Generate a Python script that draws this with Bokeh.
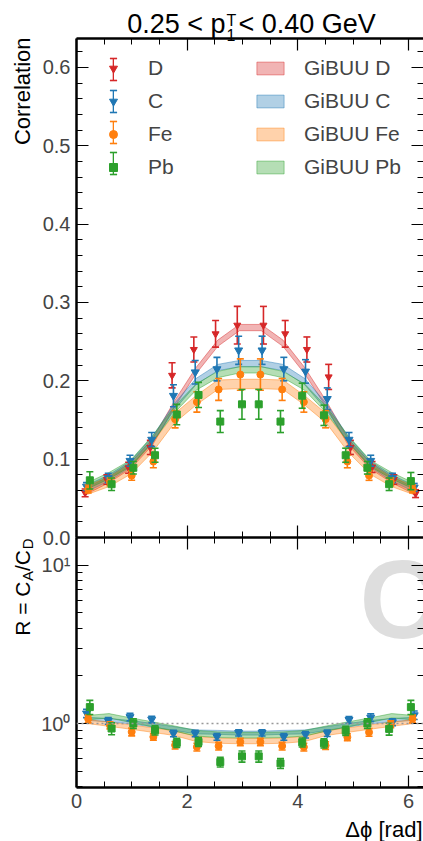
import numpy as np
from bokeh.plotting import figure
from bokeh.models import (Range1d, LinearAxis, LogAxis, FixedTicker, Label,
                          Legend, LegendItem, Span, NumeralTickFormatter)
from bokeh.layouts import column
from bokeh.embed import file_html
from bokeh.resources import INLINE

FONT = "Liberation Sans"

# ---------------- data ----------------
bin_centers = [0.196, 0.589, 0.982, 1.374, 1.767, 2.160, 2.553, 2.945,
               3.338, 3.731, 4.123, 4.516, 4.909, 5.301, 5.694, 6.087]

corr_D = [0.057, 0.074, 0.089, 0.115, 0.207, 0.240, 0.260, 0.271,
          0.271, 0.260, 0.240, 0.205, 0.115, 0.090, 0.074, 0.056]
err_D = [0.005, 0.006, 0.007, 0.009, 0.016, 0.016, 0.017, 0.024,
         0.024, 0.017, 0.016, 0.016, 0.009, 0.007, 0.006, 0.005]
corr_C = [0.065, 0.076, 0.098, 0.125, 0.181, 0.211, 0.215, 0.239,
          0.239, 0.215, 0.212, 0.177, 0.125, 0.098, 0.076, 0.064]
err_C = [0.005, 0.006, 0.007, 0.009, 0.014, 0.015, 0.015, 0.018,
         0.018, 0.015, 0.015, 0.014, 0.009, 0.007, 0.006, 0.005]
corr_Fe = [0.062, 0.071, 0.079, 0.097, 0.151, 0.173, 0.189, 0.208,
           0.208, 0.189, 0.173, 0.151, 0.097, 0.079, 0.071, 0.062]
err_Fe = [0.005, 0.005, 0.006, 0.008, 0.011, 0.013, 0.014, 0.020,
          0.020, 0.014, 0.013, 0.011, 0.008, 0.006, 0.005, 0.005]
corr_Pb = [0.073, 0.068, 0.089, 0.105, 0.157, 0.182, 0.148, 0.170,
           0.170, 0.148, 0.181, 0.156, 0.105, 0.089, 0.068, 0.072]
err_Pb = [0.011, 0.008, 0.008, 0.009, 0.013, 0.016, 0.014, 0.019,
          0.019, 0.014, 0.016, 0.013, 0.009, 0.008, 0.008, 0.011]

gibuu_D = [0.060, 0.074, 0.092, 0.122, 0.170, 0.213, 0.248, 0.268,
           0.268, 0.248, 0.213, 0.170, 0.122, 0.092, 0.074, 0.060]
gibuu_C = [0.063, 0.076, 0.094, 0.125, 0.167, 0.199, 0.217, 0.222,
           0.222, 0.217, 0.199, 0.167, 0.125, 0.094, 0.076, 0.063]
gibuu_Fe = [0.061, 0.071, 0.087, 0.115, 0.152, 0.175, 0.195, 0.196,
            0.196, 0.195, 0.175, 0.152, 0.115, 0.087, 0.071, 0.061]
gibuu_Pb = [0.066, 0.079, 0.095, 0.126, 0.163, 0.192, 0.208, 0.214,
            0.214, 0.208, 0.192, 0.163, 0.126, 0.095, 0.079, 0.066]
gibuu_hw = {"D": 0.004, "C": 0.004, "Fe": 0.006, "Pb": 0.004}

ratio_C = [1.16, 1.04, 1.10, 1.06, 0.865, 0.865, 0.823, 0.873,
           0.873, 0.823, 0.85, 0.868, 1.055, 1.09, 1.02, 1.13]
rerr_C = [0.07, 0.05, 0.06, 0.05, 0.04, 0.04, 0.04, 0.04,
          0.04, 0.04, 0.04, 0.04, 0.05, 0.06, 0.05, 0.07]
ratio_Fe = [1.07, 0.975, 0.885, 0.823, 0.73, 0.711, 0.72, 0.765,
            0.765, 0.72, 0.71, 0.726, 0.82, 0.88, 0.99, 1.07]
rerr_Fe = [0.06, 0.05, 0.05, 0.04, 0.04, 0.04, 0.04, 0.04,
           0.04, 0.04, 0.04, 0.04, 0.04, 0.05, 0.05, 0.06]
ratio_Pb = [1.27, 0.93, 1.00, 0.907, 0.755, 0.765, 0.571, 0.62,
            0.62, 0.56, 0.76, 0.75, 0.90, 1.00, 0.925, 1.27]
rerr_Pb = [0.13, 0.08, 0.07, 0.06, 0.05, 0.05, 0.04, 0.05,
           0.05, 0.04, 0.05, 0.05, 0.06, 0.07, 0.08, 0.13]

gratio_C = [1.07, 1.05, 1.02, 0.975, 0.93, 0.885, 0.88, 0.87,
            0.87, 0.88, 0.885, 0.93, 0.975, 1.02, 1.05, 1.07]
gratio_Fe = [1.03, 0.99, 0.95, 0.91, 0.87, 0.80, 0.78, 0.775,
             0.775, 0.78, 0.80, 0.87, 0.91, 0.95, 0.99, 1.03]
gratio_Pb = [1.09, 1.12, 1.05, 0.99, 0.93, 0.87, 0.85, 0.845,
             0.845, 0.85, 0.87, 0.93, 0.99, 1.05, 1.12, 1.09]
gratio_hw = {"C": 0.025, "Fe": 0.03, "Pb": 0.035}

x_major = [0, 2, 4, 6]
x_minor = [0.5, 1.0, 1.5, 2.0, 2.5, 3.0, 3.5, 4.0, 4.5, 5.0, 5.5, 6.0]
y1_major = [0.0, 0.1, 0.2, 0.3, 0.4, 0.5, 0.6]
y1_minor = [0.02, 0.04, 0.06, 0.08, 0.12, 0.14, 0.16, 0.18, 0.22, 0.24, 0.26, 0.28,
            0.32, 0.34, 0.36, 0.38, 0.42, 0.44, 0.46, 0.48, 0.52, 0.54, 0.56, 0.58, 0.62]
y2_major = [1, 10]
y2_minor = [0.4, 0.5, 0.6, 0.7, 0.8, 0.9, 2, 3, 4, 5, 6, 7, 8, 9]
y2_labels = {1: "10\u2070", 10: "10\u00b9"}

names = ["D", "C", "Fe", "Pb"]
corr = {"D": corr_D, "C": corr_C, "Fe": corr_Fe, "Pb": corr_Pb}
err = {"D": err_D, "C": err_C, "Fe": err_Fe, "Pb": err_Pb}
gibuu = {"D": gibuu_D, "C": gibuu_C, "Fe": gibuu_Fe, "Pb": gibuu_Pb}
ratio = {"C": ratio_C, "Fe": ratio_Fe, "Pb": ratio_Pb}
rerr = {"C": rerr_C, "Fe": rerr_Fe, "Pb": rerr_Pb}
gratio = {"C": gratio_C, "Fe": gratio_Fe, "Pb": gratio_Pb}

colors = {"D": "#d62728", "C": "#1f77b4", "Fe": "#ff7f0e", "Pb": "#2ca02c"}
markers = {"D": "inverted_triangle", "C": "inverted_triangle", "Fe": "circle", "Pb": "square"}
msize = {"D": 7, "C": 8, "Fe": 7, "Pb": 7}
xoff = {"D": -0.04, "C": -0.015, "Fe": 0.015, "Pb": 0.045}

centers = np.array(bin_centers)


def shifted(n):
    return centers + xoff[n] * np.sign(np.pi - centers)


def style_axis(ax, labels, line=True):
    ax.axis_line_width = 2.5
    ax.axis_line_color = "black" if line else None
    ax.major_tick_in = 12
    ax.major_tick_out = 0
    ax.minor_tick_in = 6
    ax.minor_tick_out = 0
    ax.major_tick_line_width = 1.2
    ax.minor_tick_line_width = 1.0
    ax.major_label_text_font = FONT
    if labels:
        ax.major_label_text_font_size = "20px"
        ax.major_label_standoff = 6
    else:
        ax.major_label_text_font_size = "1px"
        ax.major_label_text_alpha = 0
        ax.major_label_standoff = 0
    return ax


def draw_band(p, y_lo, y_hi, c):
    xs = list(centers) + list(centers[::-1])
    ys = list(y_lo) + list(y_hi[::-1])
    return p.patch(xs, ys, fill_color=c, fill_alpha=0.35, line_color=c,
                   line_alpha=0.45, line_width=1)


def draw_points(p, x, y, e, n):
    c = colors[n]
    y = np.array(y)
    e = np.array(e)
    p.segment(x0=x, y0=y - e, x1=x, y1=y + e, line_color=c, line_width=1.6)
    p.scatter(x, y - e, marker="dash", size=7, line_color=c, line_width=1.6)
    p.scatter(x, y + e, marker="dash", size=7, line_color=c, line_width=1.6)
    return p.scatter(x, y, marker=markers[n], size=msize[n], fill_color=c, line_color=c)


def label(p, x, y, text, size, align="left", angle=0.0, **kw):
    p.add_layout(Label(x=x, y=y, x_units="screen", y_units="screen", text=text,
                       text_font=FONT, text_font_size=size, text_align=align,
                       text_baseline="middle", angle=angle, text_color="black", **kw))


xr = Range1d(0, 6.27)

# ---------------- top panel ----------------
p1 = figure(width=423, height=547, x_range=xr, y_range=Range1d(0, 0.637),
            output_backend="svg", toolbar_location=None,
            x_axis_location=None, y_axis_location=None,
            min_border_left=76, min_border_right=0, min_border_top=38, min_border_bottom=10)
p1.grid.visible = False
p1.outline_line_color = None

xt = FixedTicker(ticks=x_major, minor_ticks=x_minor)
yt1 = FixedTicker(ticks=y1_major, minor_ticks=y1_minor)
ly1 = style_axis(LinearAxis(ticker=yt1), True)
ly1.formatter = NumeralTickFormatter(format="0.0")
p1.add_layout(ly1, "left")
p1.add_layout(style_axis(LinearAxis(ticker=yt1), False, line=False), "right")
p1.add_layout(style_axis(LinearAxis(ticker=xt), False), "above")
p1.add_layout(style_axis(LinearAxis(ticker=xt), False), "below")

band_r = {}
for n in names:
    g = np.array(gibuu[n])
    band_r[n] = draw_band(p1, g - gibuu_hw[n], g + gibuu_hw[n], colors[n])

mark_r = {}
for n in names:
    mark_r[n] = draw_points(p1, shifted(n), corr[n], err[n], n)

# error-bar symbols of the legend (proxy renderers hold one NaN point), drawn first
pitch = 31.3
for i, n in enumerate(names):
    c = colors[n]
    cy = 467.7 - pitch * i
    vline = p1.vbar(x=[np.nan], top=[np.nan], width=0.1, fill_color=c, line_color=None)
    cap = p1.scatter(x=[np.nan], y=[np.nan], marker="dash", size=7, line_color=c,
                     line_width=1.6)
    for gw, gh, r, dy in [(2, 28, vline, 0), (18, 18, cap, 11), (18, 18, cap, -11)]:
        lg = Legend(items=[LegendItem(label=" ", renderers=[r])],
                    location=(37 - gw / 2, cy + dy - gh / 2),
                    glyph_width=gw, glyph_height=gh, label_height=1, label_width=1,
                    label_standoff=0, padding=0, margin=0, spacing=0,
                    label_text_font_size="2px",
                    border_line_color=None, background_fill_alpha=0)
        p1.add_layout(lg, "center")

# legends
row0 = 461.7
leg_pts = Legend(items=[LegendItem(label=n, renderers=[mark_r[n]]) for n in names],
                 location=(27, row0 + 11 - (4 * 22 + 3 * 9)),
                 glyph_width=20, glyph_height=22, label_height=22, spacing=9,
                 label_standoff=25, padding=0, margin=0,
                 label_text_font=FONT, label_text_font_size="21px",
                 border_line_color=None, background_fill_alpha=0)
p1.add_layout(leg_pts, "center")

leg_gb = Legend(items=[LegendItem(label="GiBUU " + n, renderers=[band_r[n]]) for n in names],
                location=(177, row0 + 11 - (4 * 22 + 3 * 9)),
                glyph_width=34, glyph_height=16, label_height=22, spacing=9,
                label_standoff=17, padding=0, margin=0,
                label_text_font=FONT, label_text_font_size="21px",
                border_line_color=None, background_fill_alpha=0)
p1.add_layout(leg_gb, "center")

# ---------------- bottom panel ----------------
p2 = figure(width=423, height=304, x_range=xr, y_range=Range1d(0.394, 15.0),
            y_axis_type="log", output_backend="svg", toolbar_location=None,
            x_axis_location=None, y_axis_location=None,
            min_border_left=76, min_border_right=0, min_border_top=0, min_border_bottom=54,
            margin=(-10, 0, 0, 0))
p2.grid.visible = False
p2.outline_line_color = None
p2.border_fill_color = None

yt2 = FixedTicker(ticks=y2_major, minor_ticks=y2_minor)
ly = style_axis(LogAxis(ticker=yt2), True)
ly.major_label_overrides = y2_labels
p2.add_layout(ly, "left")
p2.add_layout(style_axis(LogAxis(ticker=yt2), False, line=False), "right")
p2.add_layout(style_axis(LinearAxis(ticker=xt), False), "above")
p2.add_layout(style_axis(LinearAxis(ticker=xt), True), "below")

p2.add_layout(Label(x=283, y=188, x_units="screen", y_units="screen", text="C",
                    text_font=FONT, text_font_style="bold", text_font_size="112px",
                    text_color="#dedede", text_baseline="middle", level="underlay"))

p2.add_layout(Span(location=1.0, dimension="width", line_color="#999999",
                   line_dash="2 3", line_width=1.5))

for n in ["C", "Fe", "Pb"]:
    g = np.array(gratio[n])
    draw_band(p2, g - gratio_hw[n], g + gratio_hw[n], colors[n])
for n in ["C", "Fe", "Pb"]:
    draw_points(p2, shifted(n), ratio[n], rerr[n], n)

# ---------------- transparent overlay for texts outside the frames ----------------
H = 841
ov = figure(width=423, height=H, x_range=Range1d(0, 423), y_range=Range1d(0, H),
            output_backend="svg", toolbar_location=None,
            x_axis_location=None, y_axis_location=None, min_border=0,
            margin=(-H, 0, 0, 0))
try:
    ov.frame_align = False
except Exception:
    pass
ov.grid.visible = False
ov.outline_line_color = None
ov.background_fill_color = None
ov.border_fill_color = None

# title 0.25 < p_1^T < 0.40 GeV
xa = 225
label(ov, xa, H - 23.5, "0.25 < p", "27px", "right")
label(ov, xa + 1, H - 20, "T", "16px")
label(ov, xa + 1, H - 34, "1", "16px")
label(ov, xa + 13, H - 23.5, "< 0.40 GeV", "27px")

# y labels
label(ov, 22, H - 37, "Correlation", "22px", "right", angle=np.pi / 2)
top_end = H - 538
pieces = [("D", "15px", 5), ("/C", "21px", 0), ("A", "15px", 5), ("R = C", "21px", 0)]
widths = {"D": 11.5, "/C": 21.0, "A": 10.5}
ypos = top_end
for txt, fs, dx in pieces:
    label(ov, 22 + dx, ypos, txt, fs, "right", angle=np.pi / 2)
    ypos -= widths.get(txt, 0)

# x label
label(ov, 422, H - 829, "\u0394\u03d5 [rad]", "22px", "right")

layout = column(p1, p2, ov, spacing=0)
open("out.html", "w").write(file_html(layout, INLINE))
